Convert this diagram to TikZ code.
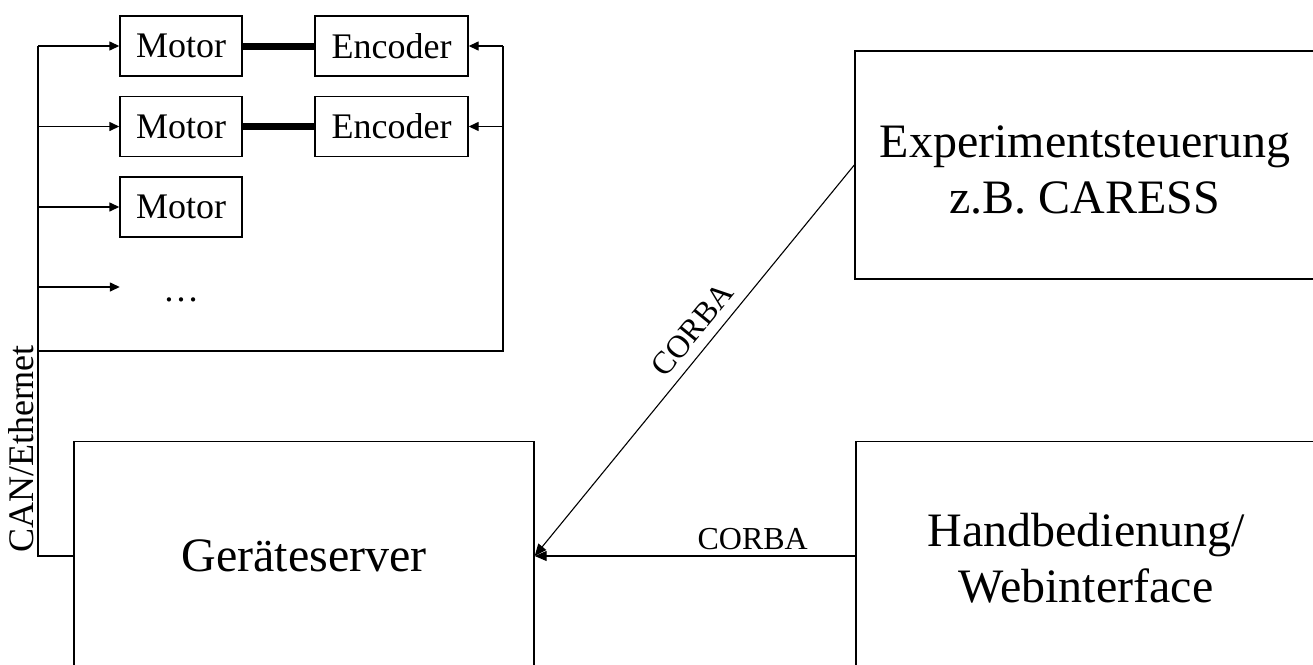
\documentclass[tikz,border=0pt]{standalone}
\usepackage{fontspec}
\setmainfont{Liberation Serif}
\usetikzlibrary{arrows.meta}
\tikzset{
  smallbox/.style={draw, line width=1.4pt, minimum height=60pt, inner sep=0pt, font=\fontsize{36}{40}\selectfont},
  bigbox/.style={draw, line width=1.4pt, minimum width=460pt, minimum height=229pt, inner sep=0pt, align=center, font=\fontsize{48}{56}\selectfont},
  bus/.style={line width=1.6pt},
  arr/.style={line width=1.4pt, -{Triangle[length=10pt,width=9pt]}},
  corba/.style={line width=1.1pt, -{Triangle[length=12pt,width=10pt]}},
  shaft/.style={line width=7pt},
  lbl/.style={font=\fontsize{32}{36}\selectfont},
}
\begin{document}
\begin{tikzpicture}[x=1pt,y=-1pt]
\useasboundingbox (0,0) rectangle (1313,664);
\clip (0,0) rectangle (1313,664);
% motors and encoders
\node[smallbox, minimum width=122pt] (m1) at (181,46) {Motor};
\node[smallbox, minimum width=122pt] (m2) at (181,126.5) {Motor};
\node[smallbox, minimum width=122pt] (m3) at (181,207) {Motor};
\node[minimum width=122pt, minimum height=60pt, inner sep=0pt, text height=28pt, text depth=0pt, font=\fontsize{36}{40}\selectfont] (m4) at (181,287) {\ldots};
\node[smallbox, minimum width=153pt] (e1) at (391.5,46) {Encoder};
\node[smallbox, minimum width=153pt] (e2) at (391.5,126.5) {Encoder};
% big boxes
\node[bigbox] (srv) at (304,556) {Geräteserver};
\node[bigbox, minimum height=228pt] (exp) at (1085,165) {\rule{0pt}{42pt}Experimentsteuerung\\z.B. CARESS};
\node[bigbox] (hand) at (1086,556) {\rule{0pt}{38pt}Handbedienung/\\Webinterface};
% bus coordinates
\coordinate (busx) at (38,0);
\coordinate (rx) at (503,0);
\coordinate (loop) at (38,351);
% bus
\draw[bus] (m1.west -| busx) -- (srv.west -| busx) -- (srv.west);
\draw[bus] (loop) -- (loop -| rx) -- (e1.east -| rx);
\node[rotate=90, anchor=base, font=\fontsize{36}{40}\selectfont] (can) at (33,449) {CAN/Ethernet};
% motor arrows
\draw[arr] (m1.west -| busx) -- (m1.west);
\draw[arr] (m2.west -| busx) -- (m2.west);
\draw[arr] (m3.west -| busx) -- (m3.west);
\draw[arr] (m4.west -| busx) -- (m4.west);
% encoder arrows
\draw[arr] (e1.east -| rx) -- (e1.east);
\draw[arr] (e2.east -| rx) -- (e2.east);
% shafts
\draw[shaft] (m1.east) -- (e1.west);
\draw[shaft] (m2.east) -- (e2.west);
% CORBA links
\draw[corba] (exp.west) -- node[lbl, pos=0.455, sloped, above, inner sep=10pt] {CORBA} (srv.east);
\draw[corba] (hand.west) -- node[lbl, pos=0.32, above, inner sep=6pt] {CORBA} (srv.east);
\end{tikzpicture}
\end{document}
